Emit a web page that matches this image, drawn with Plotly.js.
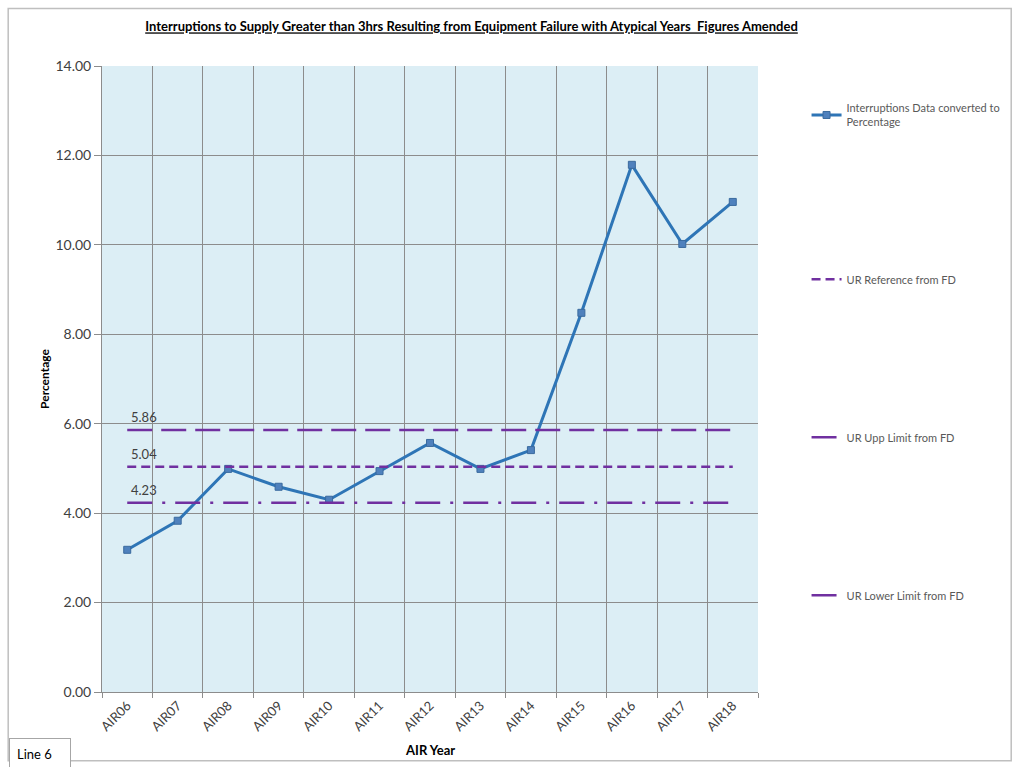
<!DOCTYPE html>
<html>
<head>
<meta charset="utf-8">
<script src="https://cdn.plot.ly/plotly-3.0.1.min.js"></script>
<style>html,body{margin:0;padding:0;background:#fff;}#chart{width:1014px;height:767px;}</style>
</head>
<body>
<div id="chart"></div>
<script>
const years = ["AIR06","AIR07","AIR08","AIR09","AIR10","AIR11","AIR12","AIR13","AIR14","AIR15","AIR16","AIR17","AIR18"];
const interruptionsPct = [3.18, 3.83, 4.99, 4.59, 4.30, 4.94, 5.57, 4.99, 5.41, 8.48, 11.79, 10.02, 10.96];
const urReference = 5.04;
const urUpperLimit = 5.86;
const urLowerLimit = 4.23;
const yTickVals = [0, 2, 4, 6, 8, 10, 12, 14];

const purple = "#7030A0";
const font = "Lato, 'Open Sans', sans-serif";
const ends = [years[0], years[years.length - 1]];

const traces = [
  {x: years, y: interruptionsPct, type: "scatter", mode: "lines+markers",
   name: "Interruptions Data converted to<br>Percentage",
   line: {color: "#2E75B6", width: 3},
   marker: {symbol: "square", size: 7, color: "#4F81BD", line: {color: "#3A6A9E", width: 1}},
   legendgroup: "a"},
  {x: ends, y: [urReference, urReference], type: "scatter", mode: "lines",
   name: "UR Reference from FD", line: {color: purple, width: 2.5, dash: "9px,5px"}, legendgroup: "b"},
  {x: ends, y: [urUpperLimit, urUpperLimit], type: "scatter", mode: "lines",
   name: "UR Upp Limit from FD", line: {color: purple, width: 2.5, dash: "25px,9px"}, legendgroup: "c"},
  {x: ends, y: [urLowerLimit, urLowerLimit], type: "scatter", mode: "lines",
   name: "UR Lower Limit from FD", line: {color: purple, width: 2.5, dash: "25px,10px,3px,10px"}, legendgroup: "d"}
];

const labelAnn = [urUpperLimit, urReference, urLowerLimit].map(v => ({
  x: years[0], y: v, xref: "x", yref: "y", text: v.toFixed(2), showarrow: false,
  xanchor: "left", yanchor: "bottom", xshift: 2, yshift: 3,
  font: {family: font, size: 13, color: "#404040"}
}));

const layout = {
  width: 1014, height: 767,
  margin: {l: 102, r: 256, t: 66, b: 75, autoexpand: false},
  paper_bgcolor: "#ffffff",
  plot_bgcolor: "#DCEEF5",
  font: {family: font, size: 12, color: "#404040"},
  title: {text: "<b><u>Interruptions to Supply Greater than 3hrs Resulting from Equipment Failure with Atypical Years  Figures Amended</u></b>",
          x: 0.465, xanchor: "center", y: 0.965, yanchor: "middle",
          font: {family: font, size: 13, color: "#000000"}},
  xaxis: {type: "category", range: [-0.5, 12.5], tickson: "boundaries",
          showgrid: true, gridcolor: "#8C8C8C", gridwidth: 1,
          ticks: "outside", ticklen: 5, tickcolor: "#8C8C8C",
          tickangle: -45, tickfont: {family: font, size: 13, color: "#404040"},
          showline: true, linecolor: "#8C8C8C", linewidth: 1, mirror: false},
  yaxis: {range: [0, 14], tickvals: yTickVals, tickformat: ".2f",
          showgrid: true, gridcolor: "#8C8C8C", gridwidth: 1, zeroline: false,
          ticks: "outside", ticklen: 7, tickcolor: "#8C8C8C",
          showline: true, linecolor: "#8C8C8C", linewidth: 1,
          tickfont: {family: font, size: 14, color: "#404040"},
          title: {text: "<b>Percentage</b>", font: {family: font, size: 12, color: "#000"}, standoff: 3}},
  showlegend: true,
  legend: {x: 1.074, xanchor: "left", y: 0.955, yanchor: "top",
           font: {family: font, size: 11, color: "#595959"},
           tracegroupgap: 139, itemwidth: 30, bgcolor: "rgba(0,0,0,0)"},
  annotations: labelAnn.concat([
    {xref: "paper", yref: "paper", x: 0.5, y: -0.092, xanchor: "center", yanchor: "middle",
     text: "<b>AIR Year</b>", showarrow: false, font: {family: font, size: 13, color: "#000"}},
    {xref: "paper", yref: "paper", x: -0.142, y: -0.124, xanchor: "left", yanchor: "bottom",
     text: "Line 6", showarrow: false, bordercolor: "#A6A6A6", borderwidth: 1, borderpad: 7,
     bgcolor: "#fff", width: 46, align: "left", font: {family: font, size: 13, color: "#000"}}
  ]),
  shapes: [
    {type: "rect", xref: "paper", yref: "paper", x0: -0.143, x1: 1.386, y0: -0.11, y1: 1.092,
     line: {color: "#BFBFBF", width: 1.5}, fillcolor: "rgba(0,0,0,0)", layer: "below"}
  ]
};

Plotly.newPlot("chart", traces, layout, {displayModeBar: false});
</script>
</body>
</html>
